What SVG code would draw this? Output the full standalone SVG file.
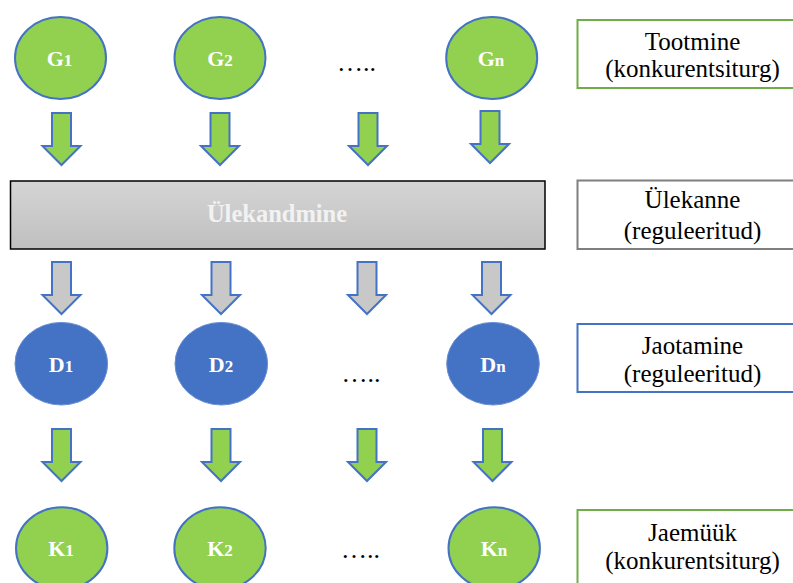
<svg xmlns="http://www.w3.org/2000/svg" width="793" height="583" viewBox="0 0 793 583">
<style>
.g{fill:#92D050;stroke:#4472C4;stroke-width:2}
.d{fill:#4472C4;stroke:#6a8fd2;stroke-width:1}
.lbl{font-family:'Liberation Serif','DejaVu Serif',serif;font-weight:bold;font-size:22px;fill:#ffffff;text-anchor:middle}
.sub{font-size:17px}
.dots{font-family:'Liberation Serif','DejaVu Serif',serif;font-size:26px;fill:#000}
.side{font-family:'Liberation Serif','DejaVu Serif',serif;font-size:25px;fill:#000;text-anchor:middle}
.ga{fill:#92D050;stroke:#4472C4;stroke-width:2;stroke-linejoin:miter}
.sa{fill:#C8C8C8;stroke:#4472C4;stroke-width:2;stroke-linejoin:miter}
</style>
<defs>
<path id="arr" d="M-9.5,0 H9.5 V33 H19 L0,52 L-19,33 H-9.5 Z"/>
<linearGradient id="grey" x1="0" y1="0" x2="0" y2="1">
<stop offset="0" stop-color="#d5d5d5"/>
<stop offset="1" stop-color="#bfbfbf"/>
</linearGradient>
</defs>
<rect width="793" height="583" fill="#ffffff"/>

<g id="connectors">
<use href="#arr" class="ga" x="61.5" y="113"/>
<use href="#arr" class="ga" x="220" y="113"/>
<use href="#arr" class="ga" x="368" y="113"/>
<use href="#arr" class="ga" x="490" y="111"/>
<use href="#arr" class="sa" x="61.5" y="262"/>
<use href="#arr" class="sa" x="221" y="262"/>
<use href="#arr" class="sa" x="367" y="262"/>
<use href="#arr" class="sa" x="491.5" y="262"/>
<use href="#arr" class="ga" x="61.5" y="429"/>
<use href="#arr" class="ga" x="221" y="429"/>
<use href="#arr" class="ga" x="367" y="429"/>
<use href="#arr" class="ga" x="492.5" y="429"/>
</g>

<g id="G1"><ellipse class="g" cx="60.5" cy="58" rx="45.5" ry="41"/><text class="lbl" x="59.5" y="66">G<tspan class="sub">1</tspan></text></g>
<g id="G2"><ellipse class="g" cx="220" cy="58" rx="45.5" ry="41"/><text class="lbl" x="220" y="66">G<tspan class="sub">2</tspan></text></g>
<g id="Gdots"><text class="dots" x="337" y="71">…..</text></g>
<g id="Gn"><ellipse class="g" cx="491.7" cy="58" rx="45.5" ry="41"/><text class="lbl" x="491" y="66">G<tspan class="sub">n</tspan></text></g>

<g id="Ulekandmine"><rect x="10.5" y="181" width="534.5" height="68" fill="url(#grey)" stroke="#000" stroke-width="1.5"/><text class="lbl" x="277" y="222" style="font-size:24.5px;fill:#f2f2f2">Ülekandmine</text></g>

<g id="D1"><ellipse class="d" cx="61.3" cy="363.7" rx="46.3" ry="41.3"/><text class="lbl" x="61" y="372">D<tspan class="sub">1</tspan></text></g>
<g id="D2"><ellipse class="d" cx="221.3" cy="363.7" rx="46.3" ry="41.3"/><text class="lbl" x="221" y="372">D<tspan class="sub">2</tspan></text></g>
<g id="Ddots"><text class="dots" x="341.5" y="382">…..</text></g>
<g id="Dn"><ellipse class="d" cx="493" cy="363.7" rx="46.3" ry="41.3"/><text class="lbl" x="493" y="372">D<tspan class="sub">n</tspan></text></g>

<g id="K1"><ellipse class="g" cx="61.7" cy="548.3" rx="45.7" ry="41"/><text class="lbl" x="61" y="556">K<tspan class="sub">1</tspan></text></g>
<g id="K2"><ellipse class="g" cx="220" cy="548.3" rx="45.7" ry="41"/><text class="lbl" x="220" y="556">K<tspan class="sub">2</tspan></text></g>
<g id="Kdots"><text class="dots" x="341" y="557.5">…..</text></g>
<g id="Kn"><ellipse class="g" cx="494.2" cy="548.3" rx="45.7" ry="41"/><text class="lbl" x="494" y="556">K<tspan class="sub">n</tspan></text></g>

<g id="Tootmine"><rect x="577.5" y="20" width="230" height="68" fill="#fff" stroke="#70AD47" stroke-width="2"/><text class="side" x="692.5" y="50">Tootmine</text><text class="side" x="692.5" y="77">(konkurentsiturg)</text></g>
<g id="Ulekanne"><rect x="577.5" y="180.5" width="230" height="68.5" fill="#fff" stroke="#7F7F7F" stroke-width="2"/><text class="side" x="692.5" y="208">Ülekanne</text><text class="side" x="692.5" y="239">(reguleeritud)</text></g>
<g id="Jaotamine"><rect x="577.5" y="324" width="230" height="68" fill="#fff" stroke="#4472C4" stroke-width="2"/><text class="side" x="692.5" y="354">Jaotamine</text><text class="side" x="692.5" y="382">(reguleeritud)</text></g>
<g id="Jaemuuk"><rect x="577.5" y="510" width="230" height="90" fill="#fff" stroke="#70AD47" stroke-width="2"/><text class="side" x="692.5" y="541">Jaemüük</text><text class="side" x="692.5" y="569">(konkurentsiturg)</text></g>
</svg>
